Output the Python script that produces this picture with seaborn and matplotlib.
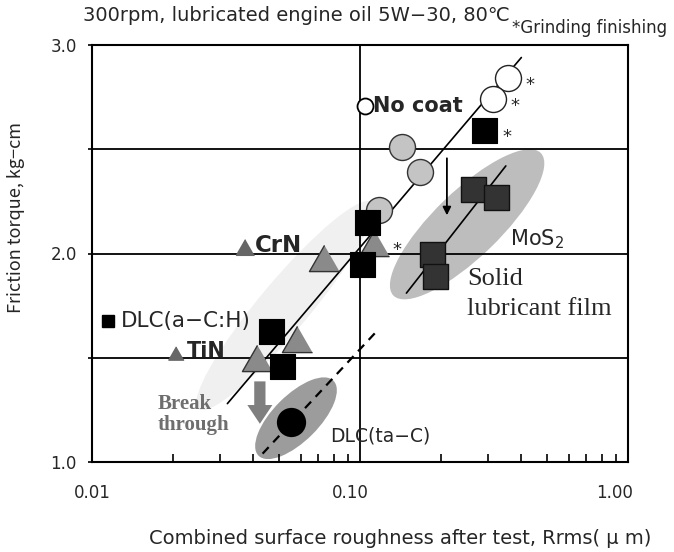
import numpy as np
import pandas as pd
import matplotlib
matplotlib.use("Agg")
import matplotlib.pyplot as plt
import seaborn as sns
from matplotlib.patches import Ellipse
from matplotlib.ticker import LogLocator, NullFormatter, FixedLocator
from matplotlib.transforms import ScaledTranslation

sns.set_theme(style="white")
plt.rcParams['font.family'] = ['DejaVu Sans', 'Noto Sans CJK JP']
plt.rcParams['mathtext.fontset'] = 'dejavusans'

# ---- measured points: roughness Rrms (um) vs. friction torque (kg-cm) ----
nocoat_ground_x = [0.356, 0.313]          # uncoated, grinding finish (*)
nocoat_ground_y = [2.84, 2.74]
nocoat_x = [0.143, 0.167, 0.118]          # uncoated
nocoat_y = [2.51, 2.39, 2.21]
dlc_ach_x = [0.290, 0.106, 0.102, 0.0467, 0.0513]   # DLC(a-C:H)
dlc_ach_y = [2.59, 2.15, 1.95, 1.63, 1.46]
nitride_x = [0.113, 0.0736, 0.0583, 0.0414]         # CrN / TiN
nitride_y = [2.05, 1.98, 1.59, 1.50]
mos2_x = [0.265, 0.322, 0.185, 0.190]               # MoS2 solid lubricant film
mos2_y = [2.31, 2.27, 2.00, 1.89]
dlc_tac_x = [0.0555]                                # DLC(ta-C)
dlc_tac_y = [1.19]

# points marked "*" (grinding finishing)
ground_x = [0.356, 0.313, 0.290, 0.113]
ground_y = [2.84, 2.74, 2.59, 2.05]

# ---- trend lines ----
base_line_x = [0.032, 0.40]
base_line_y = [1.28, 2.94]
mos2_line_x = [0.149, 0.35]
mos2_line_y = [1.81, 2.42]
tac_line_x = [0.0433, 0.116]
tac_line_y = [1.04, 1.63]

x_ticks = [0.01, 0.1, 1.0]
x_ticklabels = ['0.01', '0.10', '1.00']
y_ticks = [1.0, 1.5, 2.0, 2.5, 3.0]
y_ticklabels = ['1.0', '', '2.0', '', '3.0']

W, H = 674, 552
fig = plt.figure(figsize=(W / 100, H / 100), dpi=100)
ax = fig.add_axes([92 / W, 90 / H, 536 / W, 417 / H])
ax.set_xscale('log')
ax.set_xlim(0.01, 1.0)
ax.set_ylim(1.0, 3.0)


def px(dx, dy=0.0):
    """Offset transform given in pixels."""
    return ScaledTranslation(dx / 100, dy / 100, fig.dpi_scale_trans)


def blob(cx, cy, w_px, h_px, angle, color):
    """Shaded region drawn as a rotated ellipse (size in pixels) centred on a data point."""
    tr = fig.dpi_scale_trans + ScaledTranslation(cx, cy, ax.transData)
    ax.add_patch(Ellipse((0, 0), w_px / 100, h_px / 100, angle=angle, transform=tr,
                         facecolor=color, edgecolor='none', zorder=0.5))


blob(0.0525, 1.75, 270, 50, 50, '#f0f0f0')      # nitride / a-C:H band
blob(0.251, 2.14, 205, 66, 44, '#bdbdbd')       # MoS2 region
blob(0.0577, 1.21, 106, 46, 45, '#9c9c9c')      # ta-C region

for yv in [1.5, 2.0, 2.5]:
    ax.axhline(yv, color='black', lw=1.3, zorder=1)
ax.axvline(0.1, color='black', lw=1.3, zorder=1)

ax.plot(base_line_x, base_line_y, color='black', lw=1.2, zorder=2)
ax.plot(mos2_line_x, mos2_line_y, color='black', lw=1.2, zorder=2)
ax.plot(tac_line_x, tac_line_y, color='black', lw=1.6, ls=(0, (4, 3)), zorder=2)

tri = [(0, 1), (-1.15, -1), (1.15, -1)]
kw = dict(ax=ax, legend=False, zorder=4)
sns.scatterplot(x=nocoat_x, y=nocoat_y, marker='o', s=350, color='#c4c4c4',
                edgecolor='#333333', linewidth=1.0, **kw)
sns.scatterplot(x=nocoat_ground_x, y=nocoat_ground_y, marker='o', s=350, color='white',
                edgecolor='#222222', linewidth=1.0, **kw)
sns.scatterplot(x=nitride_x, y=nitride_y, marker=tri, s=470, color='#8a8a8a',
                edgecolor='#333333', linewidth=1.0, **kw)
sns.scatterplot(x=dlc_ach_x, y=dlc_ach_y, marker='s', s=324, color='black',
                edgecolor='black', linewidth=0.8, **kw)
sns.scatterplot(x=mos2_x, y=mos2_y, marker='s', s=324, color='#333333',
                edgecolor='#111111', linewidth=1.0, **kw)
sns.scatterplot(x=dlc_tac_x, y=dlc_tac_y, marker='o', s=380, color='black',
                edgecolor='black', **kw)

# "*" beside the ground-finished specimens
for gx, gy in zip(ground_x, ground_y):
    ax.annotate('*', (gx, gy), xytext=(13, -5), textcoords='offset points',
                fontsize=13, ha='left', va='center', zorder=5)

# arrows
ax.annotate('', xy=(0.211, 2.17), xytext=(0.211, 2.47),
            arrowprops=dict(arrowstyle='-|>', color='black', lw=1.3, mutation_scale=12),
            zorder=3)
ax.annotate('', xy=(0.0423, 1.17), xytext=(0.0423, 1.40),
            arrowprops=dict(arrowstyle='simple,head_length=0.75,head_width=1.0,tail_width=0.45',
                            color='#7f7f7f', mutation_scale=18, lw=0),
            zorder=3)


def fx(p):
    return (p - 92) / 536


def fy(p):
    return (462 - p) / 417


T = ax.transAxes
# inline key symbols
ax.plot([fx(365)], [fy(106)], transform=T, marker='o', ms=11.5, mfc='white',
        mec='black', mew=1.3, ls='none', zorder=6, clip_on=False)
ax.plot([fx(244.5)], [fy(247)], transform=T, marker=tri, ms=13, color='#666666',
        ls='none', zorder=6, clip_on=False)
ax.plot([fx(176)], [fy(353)], transform=T, marker=tri, ms=11, color='#666666',
        ls='none', zorder=6, clip_on=False)
ax.plot([fx(107.5)], [fy(320.5)], transform=T, marker='s', ms=8, color='black',
        ls='none', zorder=6, clip_on=False)

ax.text(fx(373), fy(106), 'No coat', transform=T, fontsize=15, weight='bold',
        va='center', ha='left', zorder=6)
ax.text(fx(255), fy(245), 'CrN', transform=T, fontsize=16.5, weight='bold',
        va='center', ha='left', zorder=6)
ax.text(fx(121), fy(321), 'DLC(a−C:H)', transform=T, fontsize=15.5,
        va='center', ha='left', zorder=6)
ax.text(fx(187), fy(351), 'TiN', transform=T, fontsize=15, weight='bold',
        va='center', ha='left', zorder=6)
ax.text(fx(510), fy(245), 'MoS$_2$', transform=T, fontsize=15, va='baseline', ha='left',
        zorder=6)
ax.text(fx(467), fy(285), 'Solid', transform=T, fontsize=19,
        family='Liberation Serif', va='baseline', ha='left', zorder=6)
ax.text(fx(467), fy(315), 'lubricant film', transform=T, fontsize=19,
        family='Liberation Serif', va='baseline', ha='left', zorder=6)
ax.text(fx(158), fy(409), 'Break', transform=T, fontsize=15,
        family='Liberation Serif', weight='bold', color='#6e6e6e', va='baseline',
        ha='left', zorder=6)
ax.text(fx(158), fy(430), 'through', transform=T, fontsize=15,
        family='Liberation Serif', weight='bold', color='#6e6e6e', va='baseline',
        ha='left', zorder=6)
ax.text(fx(330), fy(436), 'DLC(ta−C)', transform=T, fontsize=13.5, va='center',
        ha='left', zorder=6)

# axes styling
for sp in ax.spines.values():
    sp.set_color('black')
    sp.set_linewidth(1.5)
    sp.set_zorder(5)

ax.xaxis.set_major_locator(FixedLocator(x_ticks))
ax.set_xticklabels(x_ticklabels)
ax.xaxis.set_minor_locator(LogLocator(base=10, subs=np.arange(2, 10)))
ax.xaxis.set_minor_formatter(NullFormatter())
ax.tick_params(axis='x', which='major', length=0, pad=16, labelsize=12)
ax.tick_params(axis='x', which='minor', direction='in', length=6, width=1.2,
               color='black', bottom=True)
for lab, dx in zip(ax.get_xticklabels(), [0, -10, -13]):
    lab.set_transform(lab.get_transform() + px(dx))

ax.set_yticks(y_ticks)
ax.set_yticklabels(y_ticklabels)
ax.tick_params(axis='y', which='major', direction='out', length=3, width=1.2,
               color='black', pad=8, labelsize=12, left=True)
ax.grid(False)

ax.set_ylabel('Friction torque, kg−cm', fontsize=13, family='Noto Sans CJK JP')
ax.yaxis.set_label_coords(-0.125, 0.587)

fig.text(83 / W, 1 - 21 / H, '300rpm, lubricated engine oil 5W−30, 80℃',
         fontsize=14, va='baseline', ha='left')
fig.text(512 / W, 1 - 33 / H, '*Grinding finishing', fontsize=12,
         va='baseline', ha='left')
fig.text(400 / W, 1 - 544 / H, 'Combined surface roughness after test, Rrms( μ m)',
         fontsize=14, va='baseline', ha='center')

fig.savefig('out.png', dpi=100, facecolor='white')
